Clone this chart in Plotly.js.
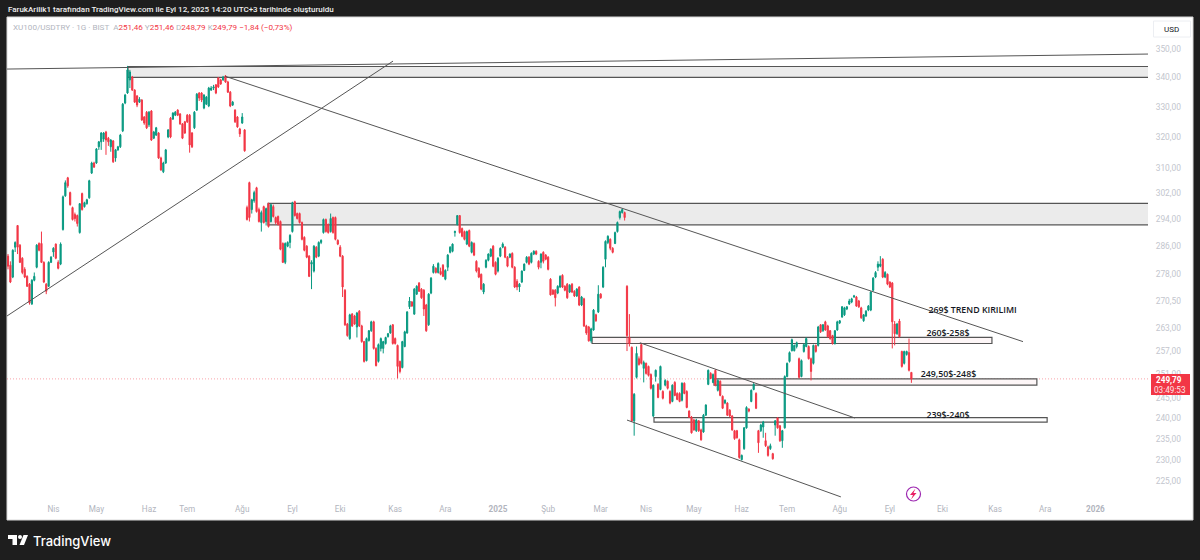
<!DOCTYPE html>
<html><head><meta charset="utf-8">
<script src="https://cdn.plot.ly/plotly-3.0.1.min.js"></script>
<style>html,body{margin:0;padding:0;background:#1e1e1e;overflow:hidden}#c{width:1200px;height:560px}</style>
</head><body><div id="c"></div>
<script>
const opens = [
283.2,280.6,277.2,285.8,292.2,286.4,282.6,279.4,277.4,275.2,
269.7,276.3,280,286.9,286.9,281.4,275.2,274.6,281.4,284.4,
286.7,281.4,280.9,291,301.2,306.8,302.2,297.6,295.5,295.2,
290.1,301.9,297.9,298.8,300.6,308.3,311.5,311.5,316.7,318.3,
319.2,321.5,319.5,316.7,318.6,313.1,315.7,316.7,321.9,331.2,
334.6,339.1,340.1,335.6,333.6,331.5,332.2,326.5,328.1,323.9,
328.5,319.5,320.5,321.2,313.1,308.7,311.5,319.9,326.1,325.8,
327.1,328.8,327.5,324.2,324.9,327.1,327.1,321.2,322.9,328.8,
334.6,334.6,329.5,330.8,330.2,335.6,336.3,337.4,339.8,339.1,
339.1,340.5,338.4,334.9,330.5,328.8,326.5,322.5,324.5,322.2,
297.6,305.3,297,299.7,303.7,297,293.1,297.9,293.4,298.8,
293.4,297.9,294.6,294.9,293.4,286.9,281.4,286.1,287.2,290.4,
299.4,295.8,295.8,293.1,288.7,286.1,283.2,280.9,278.9,285.8,
283.2,287.2,290.1,294,292.5,290.4,294.6,294.6,287.8,285.8,
283.2,273.5,264.2,260.3,266.9,266.4,263.4,267.7,263.7,259.5,
254.5,259.8,262.4,264.8,257.7,254.3,257.7,257.7,259,260.8,
261.8,264,260.3,258.5,254.3,252.7,258.2,261.8,268.9,270.2,
266.9,272.4,275.5,273.8,273.5,269.4,264,272.7,278.5,279.7,
278.5,278.8,280.6,276.6,280,284.3,284.6,290.1,292.5,295.2,
291.3,290.4,286.7,290.7,284.3,286.9,281.7,279.7,278,273,
280,282,283.2,286.1,281.4,278.9,283.2,285.8,285.8,282.9,
282.9,284,280,276,274.4,275.8,279.1,281.4,282.9,281.4,
283.8,284.6,281.7,281.4,284.3,283.5,282.9,276.6,273.5,273.5,
272.7,274.4,277.7,274.6,275.2,273,275.2,273.2,271.9,274.4,
269.4,271.1,263.7,263.4,259.7,262.6,266.7,267.5,272.4,274.4,
282.3,287.2,288.1,285.5,286.9,290.4,294.6,296.1,296.1,274.6,
260.6,258,239.3,250.2,255,258.7,252.5,253.8,253,250.9,
240.5,250.4,248.4,247.1,246.6,248.2,249.2,246.6,244.1,248.9,
246.1,246.1,244.4,248.7,246.6,241.7,240.2,239.5,236.9,239.3,
237.1,236.6,240.7,248.4,251.2,248.9,252,246.9,249.2,245.4,
243.7,243.7,241.9,240.5,236.9,236.9,234.7,230,232.6,237.6,
242.2,244.1,247.1,246.1,236.9,236.9,237.8,234.5,233,232.6,
231.4,238.3,240,238.1,234.5,237.6,250.4,254.3,257.1,257.1,
258.2,255,250.4,256.9,258.2,258.2,255,253.8,258.5,258.5,
264,262.4,264.8,263.7,262.4,261.1,259,262.6,264.5,266.1,
266.7,268.3,269.7,270.2,271.6,271.6,270.5,268.6,265.1,266.4,
268,268,273.5,277.2,280,280.3,282.3,277.2,278,275.8,
275.5,264.2,261.6,265,256.9,253.8,256.1,256.6,251.46];
const highs = [
283.8,281.7,285.2,287.5,292.2,286.7,282.9,280,277.7,275.5,
276.6,278.5,286.7,287.2,290.4,281.7,275.5,281.7,283.2,285.8,
286.9,282,287.2,301.3,306,307.1,302.5,297.9,296.1,295.5,
299,302.2,299.4,300.3,306.2,311.9,311.9,316.3,318.6,321.5,
321.5,321.9,319.9,319.2,318.9,316,317,320.9,331.2,334.3,
344,342.6,340.5,335.9,333.9,333.2,332.5,326.8,328.5,328.5,
328.8,321.9,323.2,321.5,313.5,311.9,316,322.5,326.5,328.1,
328.5,329.1,327.8,324.5,325.2,327.5,327.5,321.5,328.5,334.6,
334.9,334.9,334.2,333.6,336.7,337,337.4,337.7,340.1,339.5,
340.5,340.8,338.8,335.3,331.9,329.1,326.8,322.9,327.8,322.5,
298.2,305.6,300.3,302.8,304,297.6,296.7,298.2,297.6,299.1,
298.8,298.5,294.9,295.2,293.7,287.2,287.2,287.5,289.6,299.4,
299.7,296.1,296.1,293.4,289,286.4,283.5,282,286.4,286.1,
287.5,288.1,294.3,294.3,292.8,295.8,294.9,294.9,288.1,286.4,
283.5,273.8,264.5,267,267.2,266.7,267.5,268,264,259.7,
260.6,262.6,265.1,265.1,258,259,260.6,259.7,260.8,261.8,
264,264.2,260.6,258.7,254.5,259.7,262.4,267.7,271.6,270.5,
274.1,274.9,275.8,274.1,273.8,269.7,272.7,277.2,280.9,280,
281.4,279.9,280.9,279.4,283.8,286.1,286.9,290.7,295.2,295.2,
291.6,290.7,290.7,291,287.5,287.2,282,280,278.2,275.5,
282.3,284,285.5,286.4,281.7,282.9,285.8,287.2,286.1,283.2,
284,284.3,280.3,276.6,275.5,279.1,281.1,283.2,283.2,284.3,
284.9,284.9,282,284,284.6,283.8,283.2,276.9,273.8,273.8,
274.9,277.7,278,274.9,275.5,275.2,275.5,273.5,274.1,274.6,
271.9,271.4,264,263.7,263.2,268.3,267,274.9,272.7,280.3,
287.8,289.3,288.4,285.8,290.4,293.4,296.7,297.3,296.4,274.9,
266.9,258.2,246.2,258.2,255.6,259,254.5,254,253.2,251.2,
248.4,252.2,248.7,253.2,246.9,249.7,249.4,246.9,248.4,249.2,
246.4,246.4,248.9,248.9,246.9,241.9,240.5,239.8,239.8,239.5,
237.4,241,243.4,252.2,251.5,251.2,252.2,249.7,249.4,245.6,
244.6,243.9,242.2,240.7,237.1,237.1,235,231.2,237.8,242.9,
242.4,247.1,248.7,246.4,237.1,238.6,239.3,236.4,233.3,233.8,
231.6,239.5,240.2,238.3,237.1,250.7,254,256.9,260.3,258.7,
259.5,255.3,254.8,259,260.6,258.5,255.3,258.7,258.7,263.7,
264.2,264.2,265.1,264,262.6,261.3,262.6,265.1,265.3,269.1,
268.9,269.1,271.1,271.4,272.2,271.9,270.8,268.9,266.9,268,
269.4,273.2,277.2,278.9,281.7,283.2,282.6,278.9,278.2,276,
275.8,265,264.5,265.6,257.1,257.1,257.1,260.3,251.46];
const lows = [
279.4,275.5,276.9,284.4,283.8,281.2,278,276.9,274.4,269.5,
269.4,276,279.7,284.6,281.2,275.5,272.4,274.4,281.2,283,
282.3,279.4,280.6,290.7,300.9,303.7,298.2,293.7,293.4,291.9,
289.8,296.7,297.6,298.5,300.3,308,309.9,311.2,315.7,315.7,
318.3,314.1,317,315.1,311.5,311.9,315.4,316.3,321.5,330.8,
334.3,336.3,335.3,331.2,329.8,331.2,325.2,323.9,322.5,323.2,
318.6,319.2,320.2,312.8,309,308.3,311.2,319.5,319.5,325.5,
326.8,326.8,323.9,319.2,320.9,324.5,314.8,316.3,322.5,328.5,
331.9,331.5,329.1,330.5,329.8,335.3,335.6,334.2,336.3,337.4,
338.8,338.1,334.6,329.8,330.2,324.5,322.9,319.9,324.2,315.1,
293.7,293.4,295.8,299.1,296.1,293.1,290.4,292.8,292.2,291.6,
293.1,294.6,292.5,292.2,284.9,281.2,280.9,285.8,285.5,290.1,
294.9,294,292.8,287.8,284.6,282.6,277.2,273.8,278.5,282.6,
282.9,286.7,289.8,290.1,289.8,290.1,289.8,287.8,286.4,282.9,
271.6,263.7,260.8,260,263.4,264,260.6,263.4,259.2,254,
254.3,259.5,262.1,257.4,253,254,256.9,256.4,258.7,260.6,
261.6,258.7,258.7,249.9,251.2,252.5,258,261.6,268.3,268.9,
266.7,272.2,273,271.1,266.4,262.1,263.7,272.4,278.2,278.2,
278.2,277.7,277.2,276.3,278.9,284,284.3,288.9,292.2,289.8,
288.7,287.8,286.4,285.8,284,283.2,278.5,276.9,273.5,272.4,
279.7,281.7,282.9,280,277.7,278.5,282.9,285.5,282.6,280,
282.6,279.7,274.1,273.5,273,275.5,278.9,281.1,280.6,281.1,
283.5,283.5,279.4,279.7,281.1,282,279.1,272,272.2,269,
272.4,274.1,274.1,273.2,271.1,272.7,272.7,271.6,271.6,269.1,
269.1,263.4,261.3,259.5,259.2,262.4,264.8,267.2,271.1,274.1,
280,286.7,284.9,284,286.7,290.1,294,295.8,293.7,257,
258.2,239,235.7,249.9,253.2,253.5,248.9,250.9,250.4,247.1,
240.2,249.1,244.9,246.9,244.6,247.9,247.1,243.4,243.9,245.4,
244.4,243.9,244.1,245.9,242.4,240,236.2,236.9,236.6,236.6,
234.5,236.4,240.5,248.2,249.7,248.7,247.9,246.6,245.4,242.2,
243.4,240.5,240.2,236.9,234.7,235,230.2,229.8,232.3,237.4,
241.4,243.9,246.9,242.2,231.6,236.6,235.2,233,230.7,232.3,
230,235.7,237.4,234.2,232.8,237.4,250.2,254,256.9,256.9,
257.7,249.9,250.2,256.6,258,254.8,249.4,253.5,256.6,258.2,
261.8,262.1,262.4,260.6,260,258.7,258.7,262.4,264.2,265.9,
266.4,268,269.4,269.9,271.4,268.9,268.6,265.6,264.8,266.1,
267.7,267.7,273.2,276.9,278.9,280,276.9,276.9,274.9,274.1,
257.7,258.5,261.3,260.6,252.7,253.5,255.8,251.7,248.79];
const closes = [
280.3,275.8,284.9,287.2,285.8,281.4,278.5,277.2,274.6,270,
276.3,277.4,286.4,284.9,281.4,275.8,273.2,281.4,282.9,285.5,
282.6,279.7,286.7,300.9,305.3,304.3,298.5,294,294.3,292.8,
298.8,297,299.1,300,305.9,311.5,310.2,316,318.3,321.2,
321.2,318.9,318.3,318.9,311.9,315.7,316.7,320.5,330.8,333.9,
342.6,341.9,335.6,331.5,330.5,332.5,325.5,324.5,322.9,328.1,
318.9,321.5,322.9,313.1,309.3,311.5,315.7,322.2,319.9,327.8,
328.1,327.1,324.2,319.5,321.2,324.9,317.3,316.7,328.1,334.2,
332.9,332.2,333.9,333.2,336.3,336.3,336.7,334.6,336.7,337.7,
340.1,338.4,334.9,330.2,331.5,324.9,323.2,320.9,326.5,315.4,
294,294.6,300,302.2,296.4,293.4,296.1,293.1,297.3,291.9,
298.5,294.9,293.1,292.5,285.2,281.4,286.9,287.2,289.3,299.1,
295.2,294.3,293.1,288.1,284.9,282.9,277.4,281.4,286.1,282.9,
287.2,287.8,294,290.4,290.1,294.3,290.1,288.1,286.7,283.2,
274.4,264,261.1,266.7,263.7,264.2,267.2,263.7,259.5,254.3,
260.3,262.4,264.8,257.7,253.2,258.7,260.3,259.5,260.6,261.6,
263.7,259,259,253,251.7,259.5,262.1,267.5,270.5,269.1,
273.8,274.6,273.2,271.4,268.3,262.4,272.4,276.9,280.3,278.5,
281.1,278,277.4,279.1,283.5,285.8,286.7,290.4,295.2,290.1,
289,288.1,290.4,286.1,287.2,283.5,278.9,277.2,273.8,275.2,
282,283.8,285.2,280.3,278,282.6,285.5,286.7,282.9,280.3,
283.8,280,274.4,274.4,275.2,278.9,280.9,282.9,280.9,284,
284.6,283.8,280,283.8,281.7,282.3,279.4,272.2,272.4,271.4,
274.6,277.4,274.4,273.5,271.4,274.9,273,271.9,273.8,269.4,
271.6,263.7,261.8,259.7,262.9,268,265.1,272.4,271.4,280,
287.5,289,285.5,284.3,290.1,293.1,296.4,297,294.6,261.1,
259,239.3,245.9,256.4,253.5,253.8,254,251.2,250.7,247.4,
248.2,252,245.1,253,244.9,249.4,247.4,243.7,248.2,245.6,
244.6,244.1,248.7,246.1,242.6,240.2,236.4,237.1,239.5,236.9,
234.7,240.7,243.2,252,249.9,250.9,248.2,249.4,245.6,242.4,
244.4,240.7,240.5,237.1,235,235.2,230.5,231,237.6,242.6,
241.7,246.9,248.4,242.4,234,238.3,239,233.3,231,233.3,
230.2,239.3,237.6,234.5,236.9,250.4,253.8,256.6,260,258.5,
259.2,250.2,254.5,258.7,260.3,255,251.7,258.5,256.9,263.4,
262.1,264,262.6,260.8,260.3,259,262.4,264.8,265.1,268.9,
268.6,268.9,270.5,271.1,271.9,269.1,268.9,265.9,266.7,267.7,
269.1,273,276.9,278.5,280.9,280.9,277.2,278.5,275.2,274.4,
264.8,261.6,264.2,260.8,253,256.9,256.9,252,249.79];

const monthTickPos = [19,37,59,75,98,119,139,162,183,205,226,248,267,287,307,326,348,369,391,413,434,455];
const monthTickText = ["Nis","May","Haz","Tem","Ağu","Eyl","Eki","Kas","Ara","<b>2025</b>","Şub","Mar","Nis","May","Haz","Tem","Ağu","Eyl","Eki","Kas","Ara","<b>2026</b>"];
const priceTicks = [350,340,330,320,310,302,294,286,278,270.5,263,257,251,245,240,235,230,225];
const priceTickText = ["350,00","340,00","330,00","320,00","310,00","302,00","294,00","286,00","278,00","270,50","263,00","257,00","251,00","245,00","240,00","235,00","230,00","225,00"];

// drawings on the chart, in bar index / price
const lineX0 = [-0.4,-0.4,90.8,264.4,259];
const lineY0 = [342.9,266.4,340.4,259.2,239.5];
const lineX1 = [477,161.1,424.7,354.4,348.5];
const lineY1 = [348.2,345.7,259.5,240,221.4];
const zoneX0 = [50.2,108.8,244.4,295.4,270.3];
const zoneX1 = [482,482,411.7,430.5,434.8];
const zoneHigh = [343.8,298.9,260.6,249.8,240.1];
const zoneLow = [340,292.4,259,248.2,239];
const zoneFill = ["#ebebeb","#ebebeb","#fdf6f7","#fdf6f7","#ffffff"];
const noteText = ["269$ TREND KIRILIMI","260$-258$","249,50$-248$","239$-240$"];
const noteX = [403.6,393.3,393.5,393.3];
const noteY = [267.7,261.5,250.9,240.6];
const lastPrice = 249.79;

const L=7,R=1148,T=17,B=503;
const px = x => (x-L)/(R-L);
const py = y => (B-y)/(B-T);
const rect=(x0,y0,x1,y1,fill,line,layer)=>({type:'rect',xref:'paper',yref:'paper',x0:px(x0),x1:px(x1),y0:py(y0),y1:py(y1),fillcolor:fill,line:{color:line||fill,width:line?1:0},layer:layer||'above'});
const poly=(pts,fill,layer)=>({type:'path',xref:'paper',yref:'paper',path:'M'+pts.map(p=>px(p[0])+' '+py(p[1])).join('L')+'Z',fillcolor:fill,line:{width:0},layer:layer||'above'});
const note=(x,y,text,size,color,extra)=>Object.assign({xref:'paper',yref:'paper',x:px(x),y:py(y),text:text,showarrow:false,xanchor:'left',yanchor:'middle',font:{family:'Roboto, sans-serif',size:size,color:color},borderpad:0},extra||{});

const shapes=[rect(7,17,1193,520,'#ffffff','#d8d8d8','below')];
zoneX0.forEach((x,i)=>shapes.push({type:'rect',xref:'x',yref:'y',x0:x,x1:zoneX1[i],y0:zoneLow[i],y1:zoneHigh[i],fillcolor:zoneFill[i],line:{color:'#555',width:1.2},layer:'below'}));
lineX0.forEach((x,i)=>shapes.push({type:'line',xref:'x',yref:'y',x0:x,x1:lineX1[i],y0:lineY0[i],y1:lineY1[i],line:{color:'#555555',width:1},layer:'above'}));
shapes.push({type:'line',xref:'paper',yref:'y',x0:0,x1:1,y0:lastPrice,y1:lastPrice,line:{color:'rgba(242,54,69,0.45)',width:1,dash:'1px,2px'},layer:'below'});
shapes.push(rect(1151,374,1190,395,'#f23645'));
shapes.push(rect(1153.5,21,1190.5,37,'#ffffff','#eceef2'));
// lightning badge
shapes.push({type:'circle',xref:'paper',yref:'paper',x0:px(906.5),x1:px(920.5),y0:py(487),y1:py(501),fillcolor:'rgba(255,255,255,0)',line:{color:'#9c27b0',width:1.2},layer:'above'});
shapes.push(poly([[915.5,488.5],[910,495],[913,495],[911,499.5],[916.5,493],[913.5,493]],'#e91e63'));
// logo
shapes.push(poly([[8,535],[17,535],[17,545],[12.5,545],[12.5,539],[8,539]],'#ffffff','above'));
shapes.push({type:'circle',xref:'paper',yref:'paper',x0:px(18),x1:px(22),y0:py(535),y1:py(539),fillcolor:'#ffffff',line:{width:0},layer:'above'});
shapes.push(poly([[23.5,535],[28,535],[24,545],[19.5,545]],'#ffffff','above'));

const legendSeg = (k,v)=>`<span style="color:#b2b5be">${k}</span><span style="color:#f23645">${v}</span>`;
const annotations=[
 note(7,9,'FarukArilik1 tarafından TradingView.com ile Eyl 12, 2025 14:20 UTC+3 tarihinde oluşturuldu',8,'#e8e8e8',{font:{family:'Roboto, sans-serif',size:8,color:'#eeeeee',weight:500}}),
 note(11.5,27.5,'<span style="color:#b2b5be">XU100/USDTRY · 1G · BIST  </span>'+legendSeg('A','251,46')+' '+legendSeg('Y','251,46')+' '+legendSeg('D','248,79')+' '+legendSeg('K','249,79')+' <span style="color:#f23645">−1,84 (−0,73%)</span>',8.1,'#b2b5be'),
 note(1171.5,29,'USD',8,'#131722',{xanchor:'center'}),
 note(1168.5,379.5,'<b>249,79</b>',8.2,'#ffffff',{xanchor:'center'}),
 note(1170,389.5,'03:49:53',8.2,'#fde3e5',{xanchor:'center'}),
 note(32,540.5,'TradingView',13,'#ffffff',{font:{family:'Inter, Roboto, sans-serif',size:13,color:'#ffffff',weight:500}})
];

const xIndex = closes.map((_,i)=>i);
const data=[
 {type:'candlestick',x:xIndex,open:opens,high:highs,low:lows,close:closes,
  increasing:{line:{color:'#089981',width:1},fillcolor:'#089981'},
  decreasing:{line:{color:'#f23645',width:1},fillcolor:'#f23645'},
  hoverinfo:'skip',showlegend:false},
 {type:'scatter',mode:'text',x:noteX,y:noteY,text:noteText,textposition:'middle center',
  textfont:{family:'Open Sans, sans-serif',size:8.8,color:'#131722',weight:600},hoverinfo:'skip',showlegend:false}
];
const layout={
 width:1200,height:560,margin:{l:L,r:1200-R,t:T,b:560-B,pad:0},
 paper_bgcolor:'#1e1e1e',plot_bgcolor:'#ffffff',showlegend:false,dragmode:false,
 font:{family:'Roboto, sans-serif'},
 xaxis:{type:'linear',range:[-0.42,477],rangeslider:{visible:false},showgrid:false,zeroline:false,showline:false,
   tickmode:'array',tickvals:monthTickPos,ticktext:monthTickText,ticks:'',ticklen:0,automargin:false,
   tickfont:{family:'Roboto, sans-serif',size:8.2,color:'#b2b5be'}},
 yaxis:{type:'log',side:'right',range:[2.34247,2.55828],showgrid:false,zeroline:false,showline:false,automargin:false,
   tickmode:'array',tickvals:priceTicks,ticktext:priceTickText,ticks:'outside',ticklen:5,tickcolor:'rgba(0,0,0,0)',
   tickfont:{family:'Roboto, sans-serif',size:8.4,color:'#c3c6ce'}},
 shapes:shapes,annotations:annotations
};
Plotly.newPlot('c',data,layout,{displayModeBar:false,staticPlot:true});
</script></body></html>
